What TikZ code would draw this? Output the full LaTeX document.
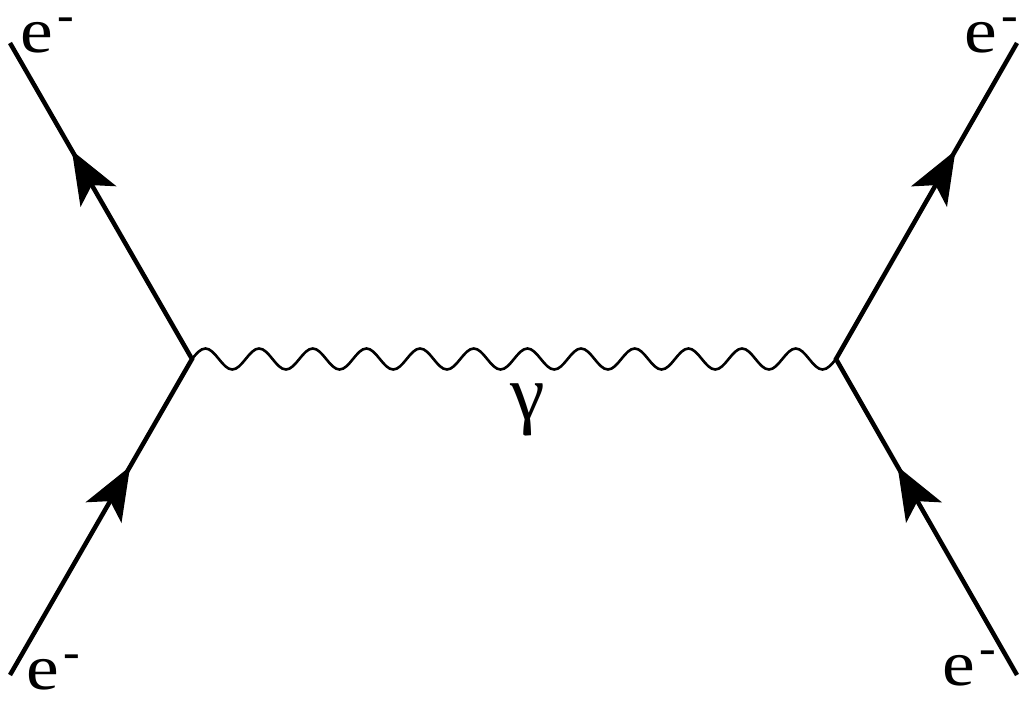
\documentclass[tikz,border=0pt]{standalone}
\usepackage{graphicx}
\usepackage{fontspec}
\setmainfont{Liberation Serif}
\newfontfamily\labfont{Liberation Serif}
\usetikzlibrary{arrows.meta,decorations.markings}
\newcommand\elabel{\scalebox{1.15}[1]{e}\kern5pt\raisebox{21pt}{\fontsize{50}{50}\selectfont -}}
\tikzset{
  myarr/.tip={Stealth[length=53pt,width=41pt,inset=13pt]},
  fermion/.style={line width=4.5pt, line join=miter, postaction={decorate},
    decoration={markings,
      mark=at position 0.33 with {\arrow{myarr}},
      mark=at position 0.83 with {\arrow{myarr}}}},
  photon/.style={line width=2.6pt},
  lab/.style={inner sep=0pt, outer sep=0pt, anchor=base west,
    font=\labfont\fontsize{64}{70}\selectfont},
}
\begin{document}
\begin{tikzpicture}[x=1pt,y=-1pt]
\useasboundingbox (0,0) rectangle (1024,703);
\coordinate (VL) at (192,359);
\coordinate (VR) at (836,359);
\coordinate (BL) at (10,675);
\coordinate (TL) at (10,43);
\coordinate (BR) at (1017,675);
\coordinate (TR) at (1017,43);
\draw[photon] (VL) \foreach \i in {1,...,12} {
  sin ++(13.4167,-10.5) cos ++(13.4167,10.5) sin ++(13.4167,10.5) cos ++(13.4167,-10.5) } -- (VR);
\draw[fermion] (BL) -- (VL) -- (TL);
\draw[fermion] (BR) -- (VR) -- (TR);
\node[lab] (eTL) at (20.2,52.5) {\elabel};
\node[lab] (eBL) at (26.2,689.5) {\elabel};
\node[lab] (eTR) at (964.2,52.5) {\elabel};
\node[lab] (eBR) at (942.2,685.5) {\elabel};
\node[inner sep=0pt, anchor=base, font=\labfont\fontsize{78}{80}\selectfont] (g) at (528,419) {γ};
\end{tikzpicture}
\end{document}
